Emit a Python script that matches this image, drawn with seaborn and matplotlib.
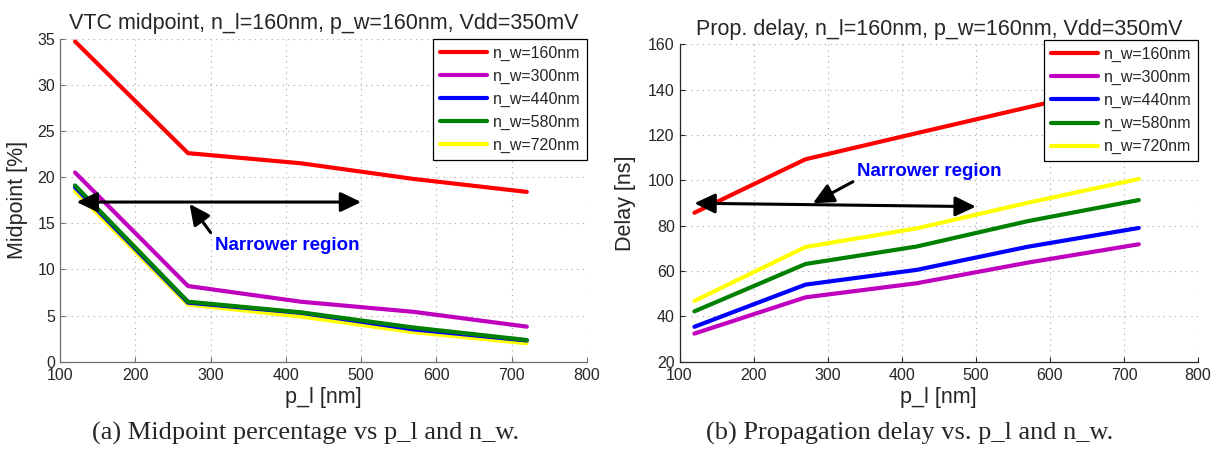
import numpy as np
import pandas as pd
import matplotlib
matplotlib.use("Agg")
import matplotlib.pyplot as plt
import seaborn as sns

# ---- data -------------------------------------------------------------
p_l = [120, 270, 420, 570, 720]
n_w_labels = ["n_w=160nm", "n_w=300nm", "n_w=440nm", "n_w=580nm", "n_w=720nm"]

# VTC midpoint [%]
mid_160 = [34.7, 22.6, 21.5, 19.8, 18.4]
mid_300 = [20.5, 8.2, 6.5, 5.4, 3.8]
mid_440 = [18.9, 6.4, 5.3, 3.5, 2.3]
mid_580 = [19.1, 6.5, 5.35, 3.7, 2.35]
mid_720 = [18.5, 6.2, 4.9, 3.2, 2.0]

# propagation delay [ns]
del_160 = [85.7, 109.3, 120.8, 132.2, 143.5]
del_300 = [32.4, 48.4, 54.6, 63.7, 71.8]
del_440 = [35.4, 54.0, 60.5, 70.7, 79.0]
del_580 = [42.2, 63.1, 70.8, 82.0, 91.3]
del_720 = [46.8, 70.6, 78.8, 90.1, 100.6]

x_ticks = [100, 200, 300, 400, 500, 600, 700, 800]
mid_ticks = [0, 5, 10, 15, 20, 25, 30, 35]
del_ticks = [20, 40, 60, 80, 100, 120, 140, 160]

colors = ["#ff0000", "#bf00bf", "#0000ff", "#008000", "#ffff00"]

titles = ["VTC midpoint, n_l=160nm, p_w=160nm, Vdd=350mV",
          "Prop. delay, n_l=160nm, p_w=160nm, Vdd=350mV"]
captions = ["(a) Midpoint percentage vs p_l and n_w.",
            "(b) Propagation delay vs. p_l and n_w."]


def long_form(series):
    rows = []
    for lab, vals in zip(n_w_labels, series):
        for x, v in zip(p_l, vals):
            rows.append({"p_l": x, "value": v, "n_w": lab})
    return pd.DataFrame(rows)


mid_df = long_form([mid_160, mid_300, mid_440, mid_580, mid_720])
del_df = long_form([del_160, del_300, del_440, del_580, del_720])

# ---- style ------------------------------------------------------------
sns.set_theme(style="white")
plt.rcParams["font.family"] = ["Liberation Sans", "DejaVu Sans"]
plt.rcParams["xtick.direction"] = "in"
plt.rcParams["ytick.direction"] = "in"

fig = plt.figure(figsize=(12.22, 4.5), dpi=100)
ax1 = fig.add_axes([0.0491, 0.1962, 0.4313, 0.7178])
ax2 = fig.add_axes([0.5561, 0.1962, 0.4243, 0.7053])

palette = dict(zip(n_w_labels, colors))


def style_axes(ax, yticks, ylim, ylabel, title, spine_col, labelpad):
    ax.set_xlim(100, 800)
    ax.set_ylim(*ylim)
    ax.set_xticks(x_ticks)
    ax.set_yticks(yticks)
    ax.tick_params(axis="both", which="major", labelsize=11.5, length=3.6,
                   width=0.8, color=spine_col, left=True, bottom=True)
    ax.tick_params(axis="x", pad=4.2)
    ax.tick_params(axis="y", pad=3.5)
    for side in ["top", "right"]:
        ax.spines[side].set_visible(False)
    for side in ["left", "bottom"]:
        ax.spines[side].set_color(spine_col)
        ax.spines[side].set_linewidth(0.9)
    ax.grid(True, linestyle=(0, (1, 4)), color="#a5a5a5", linewidth=0.8)
    ax.set_xlabel("p_l [nm]", fontsize=15.5, labelpad=3)
    ax.set_ylabel(ylabel, fontsize=15.5, labelpad=labelpad)
    ax.set_title(title, fontsize=15.5, pad=7)


def draw(ax, df):
    sns.lineplot(data=df, x="p_l", y="value", hue="n_w", hue_order=n_w_labels,
                 palette=palette, linewidth=3.0, ax=ax, legend=True)
    # the widest-device curve sits beneath its neighbours
    ax.lines[4].set_zorder(1.9)


def legend(ax, anchor):
    ax.legend(loc="upper right", bbox_to_anchor=anchor, borderaxespad=0,
              fontsize=11.5, frameon=True, fancybox=False, edgecolor="black",
              framealpha=1, handlelength=2.95, handletextpad=0.35,
              labelspacing=0.5, borderpad=0.42)
    leg = ax.get_legend()
    leg.get_frame().set_linewidth(0.9)
    for h in leg.get_lines():
        h.set_linewidth(3.0)


def arrow(ax, start, end, both=False):
    style = "<|-|>" if both else "-|>"
    ax.annotate("", xy=end, xytext=start,
                arrowprops=dict(arrowstyle=style + ",head_length=1.25,head_width=0.6",
                                mutation_scale=10, lw=2.2, color="black",
                                shrinkA=0, shrinkB=0), zorder=5)


# left panel: midpoint
draw(ax1, mid_df)
style_axes(ax1, mid_ticks, (0, 35), "Midpoint [%]", titles[0], "#6e6e6e", 6.7)
legend(ax1, (1.0, 1.0))
arrow(ax1, (122, 17.3), (500, 17.3), both=True)
arrow(ax1, (300, 14.0), (272, 17.1))
ax1.text(306, 12.6, "Narrower region", color="#0000ff", fontsize=13.5,
         fontweight="bold", ha="left", va="center")

# right panel: delay
draw(ax2, del_df)
style_axes(ax2, del_ticks, (20, 160), "Delay [ns]", titles[1], "#262626", 8.6)
legend(ax2, (1.0, 1.0135))
arrow(ax2, (120, 89.9), (500, 88.4), both=True)
arrow(ax2, (334, 99.4), (280, 89.9))
ax2.text(340, 103.8, "Narrower region", color="#0000ff", fontsize=13.5,
         fontweight="bold", ha="left", va="center")

# sub-figure captions
fig.text(306 / 1222, 0.036, captions[0], ha="center", va="center",
         fontsize=19, family=["Liberation Serif", "DejaVu Serif"])
fig.text(910 / 1222, 0.036, captions[1], ha="center", va="center",
         fontsize=19, family=["Liberation Serif", "DejaVu Serif"])

fig.savefig("out.png", dpi=100)
